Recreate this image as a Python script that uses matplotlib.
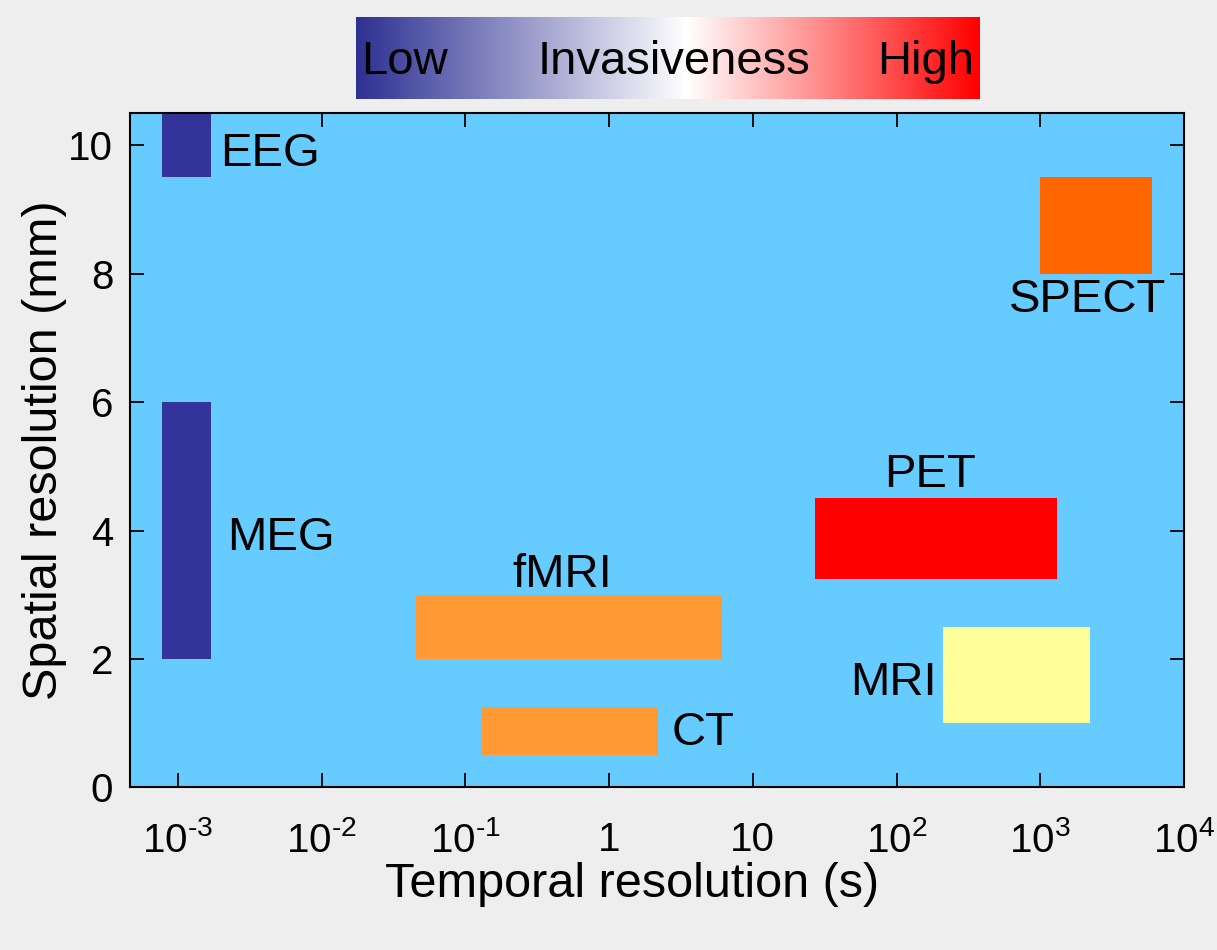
''' imaging modalities: temporal vs spatial resolution '''

import numpy as np
import matplotlib
matplotlib.use('Agg')
import matplotlib.pyplot as plt
from matplotlib.colors import LinearSegmentedColormap
from matplotlib.patches import Rectangle
from matplotlib.ticker import FixedLocator, FixedFormatter, NullLocator

plt.rcParams['font.family'] = ['Liberation Sans', 'DejaVu Sans']
plt.rcParams['mathtext.fontset'] = 'custom'
plt.rcParams['mathtext.rm'] = 'Liberation Sans'
plt.rcParams['mathtext.it'] = 'Liberation Sans:italic'

# extents of each modality: temporal (s) and spatial (mm)
modalities = ['EEG', 'MEG', 'fMRI', 'CT', 'PET', 'MRI', 'SPECT']
t_lo = [7.8e-4, 7.8e-4, 0.045, 0.128, 27, 210, 1000]
t_hi = [1.7e-3, 1.7e-3, 6.1, 2.2, 1300, 2200, 6000]
s_lo = [9.5, 2.0, 2.0, 0.5, 3.25, 1.0, 8.0]
s_hi = [11.0, 6.0, 3.0, 1.25, 4.5, 2.5, 9.5]

x_ticks = [1e-3, 1e-2, 1e-1, 1, 10, 1e2, 1e3, 1e4]
x_tick_labels = ['$\\mathregular{10^{\u20103}}$', '$\\mathregular{10^{\u20102}}$',
                 '$\\mathregular{10^{\u20101}}$', '1', '10',
                 r'$\mathregular{10^{2}}$', r'$\mathregular{10^{3}}$',
                 r'$\mathregular{10^{4}}$']
y_ticks = [0, 2, 4, 6, 8, 10]

# styling / label placement
colors = ['#333399', '#333399', '#ff9933', '#ff9933', '#ff0000', '#ffff99', '#ff6600']
label_pos = {
    'EEG': (1.96e-3, 9.86, 'left'),
    'MEG': (2.19e-3, 3.89, 'left'),
    'fMRI': (0.475, 3.31, 'center'),
    'CT': (2.72, 0.85, 'left'),
    'PET': (172, 4.86, 'center'),
    'MRI': (190, 1.63, 'right'),
    'SPECT': (2130, 7.59, 'center'),
}

fig = plt.figure(figsize=(12.17, 9.5), dpi=100)
fig.patch.set_facecolor('#eeeeee')

ax = fig.add_axes([0.1068, 0.1711, 0.8661, 0.7099])
ax.set_facecolor('#66ccff')
ax.set_xscale('log')
ax.set_xlim(10 ** -3.334, 1e4)
ax.set_ylim(0, 10.5)

for name, x0, x1, y0, y1, c in zip(modalities, t_lo, t_hi, s_lo, s_hi, colors):
    ax.add_patch(Rectangle((x0, y0), x1 - x0, y1 - y0, facecolor=c,
                           edgecolor='none', zorder=2))
    lx, ly, ha = label_pos[name]
    ax.text(lx, ly, name, ha=ha, va='center', fontsize=34, zorder=3)

ax.xaxis.set_major_locator(FixedLocator(x_ticks))
ax.xaxis.set_major_formatter(FixedFormatter(x_tick_labels))
ax.xaxis.set_minor_locator(NullLocator())
ax.set_yticks(y_ticks)
ax.tick_params(direction='in', length=10, width=1.3, top=True, right=True,
               labelsize=29)
ax.tick_params(axis='x', pad=24)
ax.tick_params(axis='y', pad=12)
for sp in ax.spines.values():
    sp.set_linewidth(1.5)

ax.set_xlabel('Temporal resolution (s)', fontsize=35)
ax.xaxis.set_label_coords(0.476, -0.11)
ax.set_ylabel('Spatial resolution (mm)', fontsize=35)
ax.yaxis.set_label_coords(-0.06, 0.5)

# invasiveness colour bar
cmap = LinearSegmentedColormap.from_list(
    'inv', [(0.0, '#2e3192'), (0.53, '#ffffff'), (1.0, '#ff0000')])
cax = fig.add_axes([0.2925, 0.8958, 0.5127, 0.0863])
cax.imshow(np.linspace(0, 1, 512)[None, :], aspect='auto', cmap=cmap,
           extent=[0, 1, 0, 1])
cax.set_axis_off()
cax.text(0.008, 0.45, 'Low', ha='left', va='center', fontsize=34)
cax.text(0.51, 0.45, 'Invasiveness', ha='center', va='center', fontsize=34)
cax.text(0.99, 0.45, 'High', ha='right', va='center', fontsize=34)

fig.savefig('out.png', dpi=100, facecolor=fig.get_facecolor())
